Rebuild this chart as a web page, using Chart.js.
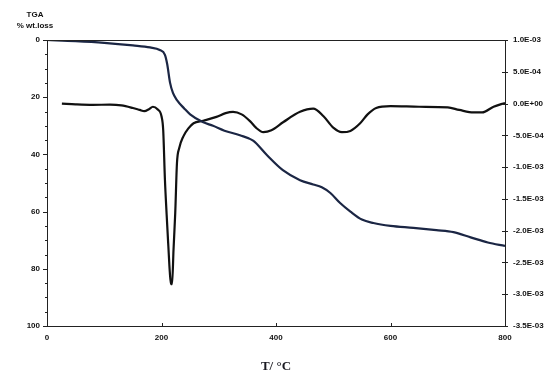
<!DOCTYPE html>
<html>
<head>
<meta charset="utf-8">
<script src="https://cdn.jsdelivr.net/npm/chart.js@4.4.0/dist/chart.umd.min.js"></script>
<style>
  body { margin: 0; background: #fff; }
  canvas { display: block; }
</style>
</head>
<body>
<canvas id="tga" width="560" height="383"></canvas>
<script>
// TGA curve: temperature (°C) and % weight loss
var tgaTemp = [0, 50, 100, 150, 180, 197, 206, 210, 215, 220, 227, 240, 250, 272, 290, 310, 337, 360, 384, 412, 442, 465, 480, 495, 512, 530, 550, 570, 600, 640, 680, 710, 740, 770, 800];
var tgaLoss = [0, 0.4, 1.0, 1.9, 2.6, 3.5, 5.2, 8.5, 15, 18.5, 21, 24, 26, 28.7, 30, 31.7, 33.3, 35.2, 40.2, 45.5, 49, 50.5, 51.5, 53.5, 57, 60, 62.8, 64, 65, 65.7, 66.5, 67.2, 69, 70.8, 72];

// DTG curve: temperature (°C) and derivative
var dtgTemp = [26, 50, 80, 110, 130, 150, 162, 170, 178, 185, 193, 200, 203, 206, 209, 212, 214.5, 216.5, 218.5, 221, 224, 227, 231, 238, 247, 256, 273, 296, 312, 325, 340, 355, 365, 378, 392, 413, 442, 465, 483, 500, 515, 530, 547, 560, 575, 600, 650, 700, 720, 745, 760, 780, 800];
var dtgVal = [0, -0.012, -0.02, -0.018, -0.03, -0.07, -0.1, -0.12, -0.09, -0.05, -0.09, -0.2, -0.42, -1.2, -1.75, -2.25, -2.65, -2.84, -2.84, -2.3, -1.72, -0.94, -0.7, -0.52, -0.39, -0.31, -0.27, -0.21, -0.15, -0.13, -0.17, -0.28, -0.38, -0.45, -0.42, -0.29, -0.13, -0.08, -0.2, -0.38, -0.45, -0.43, -0.31, -0.17, -0.07, -0.04, -0.05, -0.06, -0.1, -0.14, -0.14, -0.05, 0.01];

var xTicks = [0, 200, 400, 600, 800];

function toPoints(xs, ys, scale) {
    var pts = [];
    for (var i = 0; i < xs.length; i++) {
        pts.push({x: xs[i], y: ys[i] * scale});
    }
    return pts;
}

function sciLabel(v) {
    if (Math.abs(v) < 1e-12) v = 0;
    var parts = v.toExponential(1).split('e');
    var exp = parts[1];
    var digits = exp.slice(1);
    if (digits.length < 2) digits = '0' + digits;
    return parts[0] + 'E' + exp[0] + digits;
}

var tickFont = {family: 'Liberation Sans', size: 8, weight: 'bold'};

// axis ticks, minor ticks, top border and the TGA label
var decorPlugin = {
    id: 'decor',
    afterDraw: function (chart) {
        var ctx = chart.ctx;
        var area = chart.chartArea;
        var x = chart.scales.x, y = chart.scales.y, y2 = chart.scales.y2;
        ctx.save();
        ctx.strokeStyle = '#222';
        ctx.lineWidth = 1;
        ctx.beginPath();
        ctx.moveTo(area.left, area.top + 0.5);
        ctx.lineTo(area.right, area.top + 0.5);
        for (var v = 0; v <= 100; v += 5) {
            var py = Math.round(y.getPixelForValue(v)) + 0.5;
            var len = (v % 20 === 0) ? 4 : 2;
            ctx.moveTo(area.left - len, py);
            ctx.lineTo(area.left, py);
        }
        for (var k = 0; k < xTicks.length; k++) {
            var px = Math.round(x.getPixelForValue(xTicks[k])) + 0.5;
            ctx.moveTo(px, area.bottom - 3);
            ctx.lineTo(px, area.bottom);
        }
        for (var j = -7; j <= 2; j++) {
            var ry = Math.round(y2.getPixelForValue(j * 5e-4)) + 0.5;
            ctx.moveTo(area.right - 3, ry);
            ctx.lineTo(area.right + 3, ry);
        }
        ctx.stroke();

        ctx.fillStyle = '#111';
        ctx.font = 'bold 8px "Liberation Sans"';
        ctx.textAlign = 'center';
        ctx.textBaseline = 'middle';
        ctx.fillText('TGA', 35, 15);
        ctx.fillText('% wt.loss', 35, 26);
        ctx.restore();
    }
};

new Chart(document.getElementById('tga'), {
    type: 'line',
    data: {
        datasets: [{
            label: 'TGA',
            data: toPoints(tgaTemp, tgaLoss, 1),
            yAxisID: 'y',
            borderColor: '#1b2644',
            borderWidth: 2.2,
            pointRadius: 0,
            cubicInterpolationMode: 'monotone',
            fill: false
        }, {
            label: 'DTG',
            data: toPoints(dtgTemp, dtgVal, 1e-3),
            yAxisID: 'y2',
            borderColor: '#111111',
            borderWidth: 2.2,
            pointRadius: 0,
            cubicInterpolationMode: 'monotone',
            fill: false
        }]
    },
    options: {
        responsive: false,
        animation: false,
        layout: {padding: {top: 40, left: 0, right: 0, bottom: 0}},
        plugins: {
            legend: {display: false},
            tooltip: {enabled: false}
        },
        scales: {
            x: {
                type: 'linear',
                min: 0,
                max: 800,
                afterBuildTicks: function (scale) {
                    scale.ticks = xTicks.map(function (v) { return {value: v}; });
                },
                grid: {display: false, drawTicks: false},
                border: {display: true, color: '#222', width: 1},
                ticks: {font: tickFont, color: '#111', padding: 7, maxRotation: 0},
                title: {
                    display: true,
                    text: 'T/ °C',
                    font: {family: 'Liberation Serif', size: 13, weight: 'bold'},
                    color: '#1a1a22',
                    padding: {top: 0, bottom: 9}
                },
                afterFit: function (scale) { scale.height = 57; }
            },
            y: {
                position: 'left',
                reverse: true,
                min: 0,
                max: 100,
                ticks: {stepSize: 20, font: tickFont, color: '#111', padding: 7},
                grid: {display: false, drawTicks: false},
                border: {display: true, color: '#222', width: 1},
                afterFit: function (scale) { scale.width = 47; }
            },
            y2: {
                position: 'right',
                min: -3.5e-3,
                max: 1e-3,
                ticks: {
                    stepSize: 5e-4,
                    font: tickFont,
                    color: '#111',
                    padding: 8,
                    callback: function (value) { return sciLabel(value); }
                },
                grid: {display: false, drawTicks: false},
                border: {display: true, color: '#222', width: 1},
                afterFit: function (scale) { scale.width = 55; }
            }
        }
    },
    plugins: [decorPlugin]
});
</script>
</body>
</html>
